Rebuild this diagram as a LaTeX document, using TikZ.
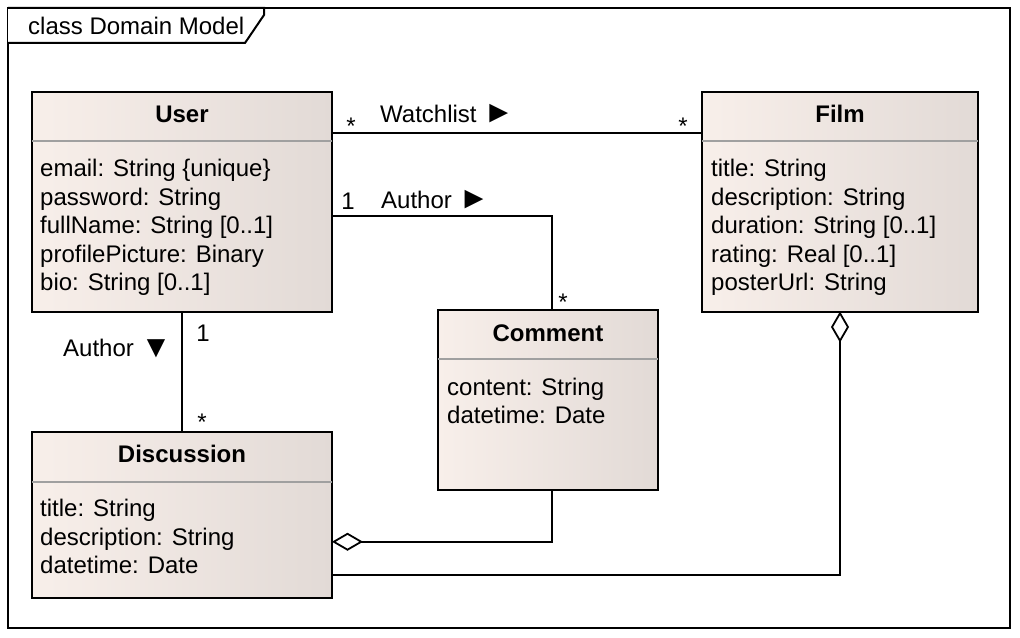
\documentclass[tikz,border=0pt]{standalone}
\usepackage{fontspec}
\usepackage{graphicx}
\setmainfont{Liberation Sans}
\usetikzlibrary{arrows.meta,calc}
\definecolor{boxL}{RGB}{248,239,234}
\definecolor{boxR}{RGB}{226,218,214}
\definecolor{sepgray}{RGB}{160,160,160}
\newcommand{\trR}{\raisebox{-0.5bp}{\scalebox{1.3}{►}}}
\newcommand{\trD}{\raisebox{-0.5bp}{\scalebox{1.3}{▼}}}
\begin{document}
\begin{tikzpicture}[x=1bp,y=-1bp,
  font=\fontsize{24bp}{28bp}\selectfont,
  classbox/.style={draw, line width=2bp, left color=boxL, right color=boxR,
    inner sep=0pt, outer sep=0pt, anchor=north west},
  sepline/.style={draw=sepgray, line width=1.6bp},
  ctitle/.style={font=\fontsize{24bp}{28bp}\selectfont\bfseries, anchor=base, inner sep=0pt},
  attr/.style={anchor=base west, inner sep=0pt},
  lbl/.style={anchor=base west, inner sep=0pt},
  mult/.style={anchor=base, inner sep=0pt},
  conn/.style={draw, line width=1.8bp},
  agg/.style={conn, -{Diamond[open, length=31bp, width=18bp]}}
]
\useasboundingbox (0,0) rectangle (1020,638);
% frame
\draw[line width=2bp] (8,8) rectangle (1010,628);
\draw[line width=2bp, fill=white] (8,8) -- (264,8) -- (264,15) -- (245,43) -- (8,43);
\node[lbl] (frametitle) at (28,35) {class Domain Model};

% classes
\node[classbox, minimum width=300bp, minimum height=219.5bp] (user) at (32,92) {};
\node[classbox, minimum width=276bp, minimum height=219.5bp] (film) at (702,92) {};
\node[classbox, minimum width=220bp, minimum height=179.5bp] (comment) at (438,310) {};
\node[classbox, minimum width=300bp, minimum height=165.5bp] (disc) at (32,432) {};

\foreach \b/\d in {user/49, film/49, comment/49, disc/50}
  \draw[sepline] ([yshift=-\d bp]\b.north west) -- ([yshift=-\d bp]\b.north east);

\node[ctitle] (userT) at ([yshift=-31bp]user.north) {User};
\node[ctitle] (filmT) at ([yshift=-31bp]film.north) {Film};
\node[ctitle] (commentT) at ([yshift=-31bp]comment.north) {Comment};
\node[ctitle] (discT) at ([yshift=-30bp]disc.north) {Discussion};

\foreach \t [count=\i] in {email: String \{unique\}, password: String, fullName: String [0..1], profilePicture: Binary, bio: String [0..1]}
  \node[attr] (ua\i) at ($(user.north west)+(8,{85+28.5*(\i-1)})$) {\t};
\foreach \t [count=\i] in {title: String, description: String, duration: String [0..1], rating: Real [0..1], posterUrl: String}
  \node[attr] (fa\i) at ($(film.north west)+(9,{85+28.5*(\i-1)})$) {\t};
\foreach \t [count=\i] in {content: String, datetime: Date}
  \node[attr] (ca\i) at ($(comment.north west)+(9,{85+28.3*(\i-1)})$) {\t};
\foreach \t [count=\i] in {title: String, description: String, datetime: Date}
  \node[attr] (da\i) at ($(disc.north west)+(8,{84.7+28.3*(\i-1)})$) {\t};

% connectors
\draw[conn] ([yshift=-41bp]user.north east) -- ([yshift=-41bp]film.north west);
\draw[conn] ([yshift=-124bp]user.north east) -| ([xshift=4bp]comment.north);
\draw[conn] (user.south) -- (disc.north);
\draw[agg] ([xshift=4bp]comment.south) |- ([yshift=-27bp]disc.east);
\draw[agg] ([yshift=-60.5bp]disc.east) -| (film.south);

% labels
\node[lbl] (wl) at (380,122.3) {Watchlist \trR};
\node[lbl] (au1) at (381,208.3) {Author \trR};
\node[lbl] (au2) at (63,356.7) {Author \trD};
\node[mult] (m1) at (351,135) {*};
\node[mult] (m2) at (683,135) {*};
\node[mult] (m3) at (348,209.3) {1};
\node[mult] (m4) at (563,310) {*};
\node[mult] (m5) at (203,341.7) {1};
\node[mult] (m6) at (202,430) {*};
\end{tikzpicture}
\end{document}
